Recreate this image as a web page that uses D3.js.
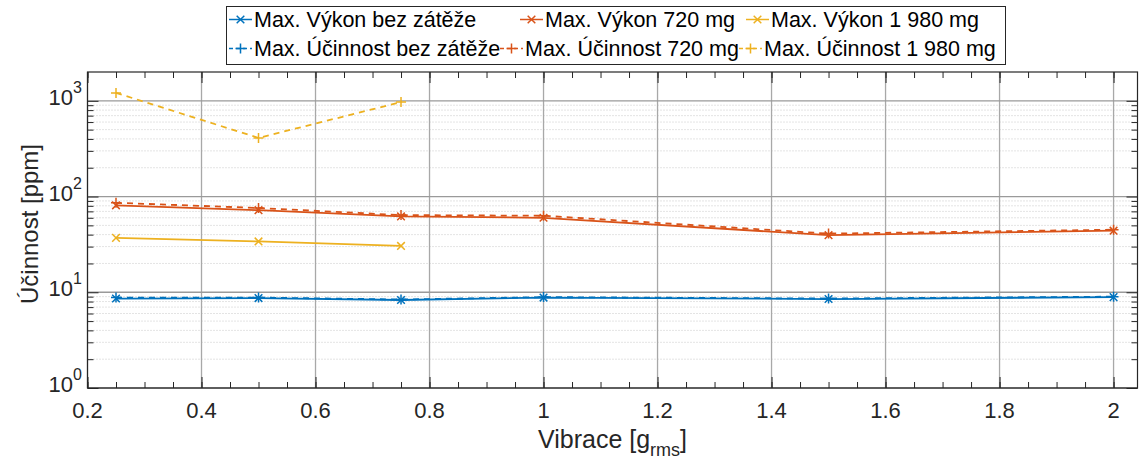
<!DOCTYPE html>
<html>
<head>
<meta charset="utf-8">
<script src="https://cdn.jsdelivr.net/npm/d3@7"></script>
<style>
  html, body { margin: 0; padding: 0; background: #fff; }
  svg { display: block; font-family: "Liberation Sans", Arial, Helvetica, sans-serif; }
</style>
</head>
<body>
<svg id="chart" width="1141" height="464"></svg>
<script>
// Vibration levels [g_rms]
const vibraceAll = [0.25, 0.5, 0.75, 1, 1.5, 2];
const vibrace1980 = [0.25, 0.5, 0.75];

// Efficiency values [ppm]
const vykonBez = [8.6, 8.7, 8.3, 8.8, 8.5, 8.9];
const ucinnostBez = [8.8, 8.8, 8.4, 8.9, 8.6, 9.0];
const vykon720 = [81, 72, 62, 60, 39.5, 44];
const ucinnost720 = [86, 76, 64, 63, 41, 45];
const vykon1980 = [37, 34, 30.5];
const ucinnost1980 = [1210, 410, 970];

// Tick labels
const xTicks = [0.2, 0.4, 0.6, 0.8, 1, 1.2, 1.4, 1.6, 1.8, 2];
const yTickExps = [0, 1, 2, 3];

const legendNames = [
  "Max. Výkon bez zátěže", "Max. Výkon 720 mg", "Max. Výkon 1 980 mg",
  "Max. Účinnost bez zátěže", "Max. Účinnost 720 mg", "Max. Účinnost 1 980 mg"
];

const colors = { blue: "#0072BD", orange: "#D95319", yellow: "#EDB120" };

const series = [
  { name: legendNames[0], x: vibraceAll, y: vykonBez, color: colors.blue, dashed: false, marker: "x" },
  { name: legendNames[3], x: vibraceAll, y: ucinnostBez, color: colors.blue, dashed: true, marker: "+" },
  { name: legendNames[1], x: vibraceAll, y: vykon720, color: colors.orange, dashed: false, marker: "x" },
  { name: legendNames[4], x: vibraceAll, y: ucinnost720, color: colors.orange, dashed: true, marker: "+" },
  { name: legendNames[2], x: vibrace1980, y: vykon1980, color: colors.yellow, dashed: false, marker: "x" },
  { name: legendNames[5], x: vibrace1980, y: ucinnost1980, color: colors.yellow, dashed: true, marker: "+" }
];

const svg = d3.select("#chart");
const pL = 87.5, pR = 1137.5, pT = 72, pB = 388;

const x = d3.scaleLinear().domain([0.2, 2.042]).range([pL, pR]);
const y = d3.scaleLog().domain([1, 2000]).range([pB, pT]);

const axisColor = "#262626";
const g = svg.append("g");

// plot background
g.append("rect").attr("x", pL).attr("y", pT).attr("width", pR - pL).attr("height", pB - pT)
  .attr("fill", "#fff");

// minor horizontal grid (log decades 2..9)
const minorY = [];
for (let e = 0; e < 4; e++) for (let m = 2; m <= 9; m++) {
  const v = m * Math.pow(10, e);
  if (v < 2000) minorY.push(v);
}
g.append("g").selectAll("line").data(minorY).join("line")
  .attr("x1", pL).attr("x2", pR)
  .attr("y1", d => y(d)).attr("y2", d => y(d))
  .attr("stroke", "#c8c8c8").attr("stroke-width", 1).attr("stroke-dasharray", "1,2");

// major grid
g.append("g").selectAll("line").data(xTicks).join("line")
  .attr("x1", d => x(d)).attr("x2", d => x(d))
  .attr("y1", pT).attr("y2", pB)
  .attr("stroke", "#a8a8a8").attr("stroke-width", 1.3);
g.append("g").selectAll("line").data(yTickExps).join("line")
  .attr("x1", pL).attr("x2", pR)
  .attr("y1", d => y(Math.pow(10, d))).attr("y2", d => y(Math.pow(10, d)))
  .attr("stroke", "#9a9a9a").attr("stroke-width", 1.3);

// axes via d3 with inward ticks
const xMinor = d3.range(0.2, 2.0421, 0.05).map(v => +v.toFixed(2));
const yMajor = yTickExps.map(e => Math.pow(10, e));
const axes = [
  g.append("g").attr("transform", `translate(0,${pB})`).call(d3.axisTop(x).tickValues(xMinor).tickSize(6).tickFormat("")),
  g.append("g").attr("transform", `translate(0,${pB})`).call(d3.axisTop(x).tickValues(xTicks).tickSize(11).tickFormat("")),
  g.append("g").attr("transform", `translate(0,${pT})`).call(d3.axisBottom(x).tickValues(xMinor).tickSize(6).tickFormat("")),
  g.append("g").attr("transform", `translate(0,${pT})`).call(d3.axisBottom(x).tickValues(xTicks).tickSize(11).tickFormat("")),
  g.append("g").attr("transform", `translate(${pL},0)`).call(d3.axisRight(y).tickValues(minorY).tickSize(6).tickFormat("")),
  g.append("g").attr("transform", `translate(${pL},0)`).call(d3.axisRight(y).tickValues(yMajor).tickSize(11).tickFormat("")),
  g.append("g").attr("transform", `translate(${pR},0)`).call(d3.axisLeft(y).tickValues(minorY).tickSize(6).tickFormat("")),
  g.append("g").attr("transform", `translate(${pR},0)`).call(d3.axisLeft(y).tickValues(yMajor).tickSize(11).tickFormat(""))
];
axes.forEach(a => {
  a.select(".domain").remove();
  a.selectAll(".tick line").attr("stroke", axisColor).attr("stroke-width", 1);
});

// box
g.append("rect").attr("x", pL).attr("y", pT).attr("width", pR - pL).attr("height", pB - pT)
  .attr("fill", "none").attr("stroke", axisColor).attr("stroke-width", 1.2);

// x tick labels
g.append("g").selectAll("text").data(xTicks).join("text")
  .attr("x", d => x(d)).attr("y", 418)
  .attr("text-anchor", "middle").attr("font-size", 22).attr("fill", axisColor)
  .text(d => d3.format("~g")(d));

// y tick labels 10^n
const yl = g.append("g").selectAll("text").data(yTickExps).join("text")
  .attr("x", 82).attr("y", d => y(Math.pow(10, d)) + 4)
  .attr("text-anchor", "end").attr("font-size", 22).attr("fill", axisColor);
yl.append("tspan").text("10");
yl.append("tspan").attr("dy", -12).attr("font-size", 16).text(d => d);

// axis titles
const xt = g.append("text").attr("x", (pL + pR) / 2).attr("y", 448)
  .attr("text-anchor", "middle").attr("font-size", 25).attr("fill", axisColor);
xt.append("tspan").text("Vibrace [g");
xt.append("tspan").attr("dy", 8).attr("font-size", 18).text("rms");
xt.append("tspan").attr("dy", -8).text("]");

g.append("text").attr("transform", `translate(38,${(pT + pB) / 2 - 6}) rotate(-90)`)
  .attr("text-anchor", "middle").attr("font-size", 24).attr("fill", axisColor)
  .text("Účinnost [ppm]");

// markers
function drawMarker(sel, type, color) {
  if (type === "x") {
    const s = 3.8;
    sel.append("path").attr("d", `M${-s},${-s}L${s},${s}M${-s},${s}L${s},${-s}`)
      .attr("stroke", color).attr("stroke-width", 1.5).attr("fill", "none");
  } else {
    const s = 5;
    sel.append("path").attr("d", `M${-s},0L${s},0M0,${-s}L0,${s}`)
      .attr("stroke", color).attr("stroke-width", 1.5).attr("fill", "none");
  }
}

const line = d3.line().x(d => x(d[0])).y(d => y(d[1]));
const plot = g.append("g");
series.forEach(s => {
  const pts = s.x.map((v, i) => [v, s.y[i]]);
  plot.append("path").attr("d", line(pts)).attr("fill", "none")
    .attr("stroke", s.color).attr("stroke-width", 1.8)
    .attr("stroke-dasharray", s.dashed ? "6,5" : null);
  pts.forEach(p => {
    const m = plot.append("g").attr("transform", `translate(${x(p[0])},${y(p[1])})`);
    drawMarker(m, s.marker, s.color);
  });
});

// legend
const legend = svg.append("g");
legend.append("rect").attr("x", 226.5).attr("y", 6.5).attr("width", 779).attr("height", 58)
  .attr("fill", "#fff").attr("stroke", axisColor).attr("stroke-width", 1);
const rowY = [19.5, 48.5];
const sampleX = [[229, 520, 746], [229, 500, 739]];
const order = [[0, 2, 4], [1, 3, 5]];
order.forEach((row, r) => {
  row.forEach((si, c) => {
    const s = series[si];
    const x0 = sampleX[r][c];
    legend.append("line").attr("x1", x0).attr("x2", x0 + 23)
      .attr("y1", rowY[r]).attr("y2", rowY[r])
      .attr("stroke", s.color).attr("stroke-width", 1.5)
      .attr("stroke-dasharray", s.dashed ? "4,3" : null);
    const m = legend.append("g").attr("transform", `translate(${x0 + 11.5},${rowY[r]})`);
    drawMarker(m, s.marker, s.color);
    legend.append("text").attr("x", x0 + 25).attr("y", rowY[r] + 7.5)
      .attr("font-size", 21.5).attr("fill", "#000").text(s.name);
  });
});
</script>
</body>
</html>
